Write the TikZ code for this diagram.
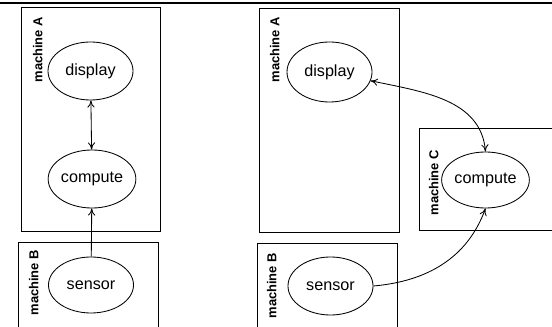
\documentclass[tikz,border=0pt]{standalone}
\usepackage{fontspec}
\setmainfont{Liberation Sans}
\usetikzlibrary{arrows.meta, shapes.geometric}
\tikzset{
  every picture/.style={line width=0.6pt},
  machine/.style={draw, rectangle, inner sep=0pt, minimum width=#1, minimum height=5.6cm},
  machine/.default=3.5cm,
  proc/.style={draw, ellipse, inner sep=0pt, minimum width=2.125cm, minimum height=1.45cm,
    font=\fontsize{11.5}{13}\selectfont},
  tag/.style={rotate=90, anchor=north east, inner sep=0pt, font=\bfseries\fontsize{9.2}{11}\selectfont},
  arrow/.style={-{To[length=1.8mm, width=1.8mm]}},
  both/.style={{To[length=1.8mm, width=1.8mm]}-{To[length=1.8mm, width=1.8mm]}},
}

\begin{document}
\begin{tikzpicture}[x=0.025cm, y=-0.025cm]
  \useasboundingbox (0,0) rectangle (552,327);
  \clip (0,0) rectangle (552,327);
  \draw[line width=1pt] (0,3) -- (552,3);

  % one process per machine pair
  \node[machine=3.475cm] (mA) at (90.5,119) {};
  \node[machine, minimum height=2.6cm] (mB) at (88,294) {};
  \node[tag] (tA) at ([shift={(12,10)}]mA.north west) {machine A};
  \node[tag] (tB) at ([shift={(11,8)}]mB.north west) {machine B};
  \node[proc] (disp) at (90.5,71) {display};
  \node[proc] (comp) at (92,179) {compute};
  \node[proc, minimum height=1.4cm] (sens) at (91,285) {sensor};
  \draw[both] (disp) -- (comp);
  \draw[arrow] (sens) -- (comp);

  % compute moved to its own machine
  \node[machine] (mA2) at (329,120) {};
  \node[machine, minimum height=2.55cm] (mB2) at (327,294) {};
  \node[machine=3.775cm, minimum height=2.55cm] (mC2) at (494.5,179) {};
  \node[tag] (tA2) at ([shift={(11,9)}]mA2.north west) {machine A};
  \node[tag] (tB2) at ([shift={(10,10)}]mB2.north west) {machine B};
  \node[tag] (tC2) at ([shift={(10,22)}]mC2.north west) {machine C};
  \node[proc, minimum height=1.5cm] (disp2) at (329.5,72) {display};
  \node[proc, minimum height=1.4cm] (comp2) at (485.5,180) {compute};
  \node[proc] (sens2) at (330.5,286) {sensor};
  \draw[both] (disp2.-12) to[out=-12, in=95] (comp2.north);
  \draw[arrow] (sens2.east) to[out=5, in=-110] (comp2.south);
\end{tikzpicture}
\end{document}
